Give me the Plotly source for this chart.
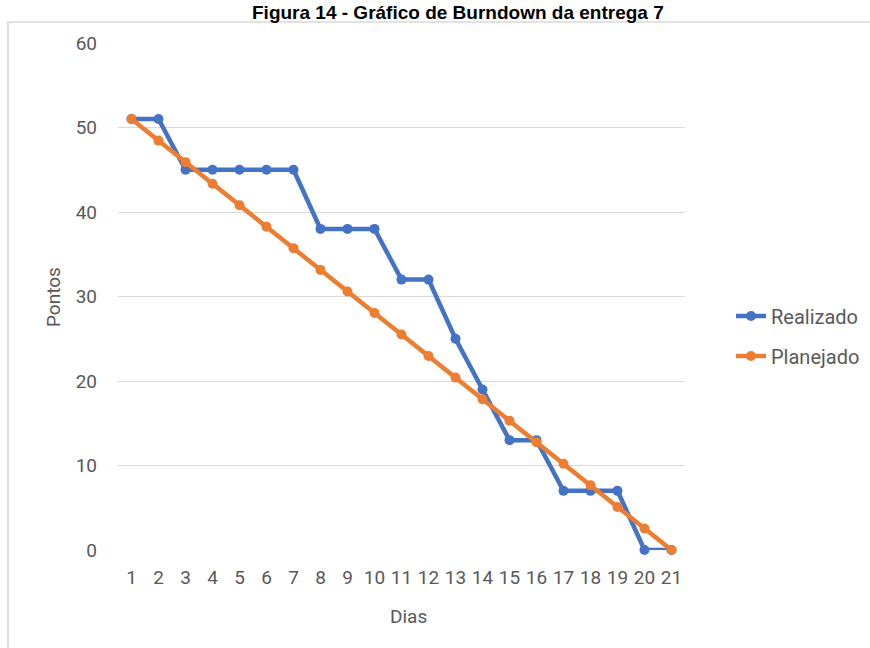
import plotly.graph_objects as go

dias = ["1", "2", "3", "4", "5", "6", "7", "8", "9", "10", "11",
        "12", "13", "14", "15", "16", "17", "18", "19", "20", "21"]
realizado = [51, 51, 45, 45, 45, 45, 45, 38, 38, 38, 32, 32, 25, 19, 13, 13, 7, 7, 7, 0, 0]
planejado = [51, 48.45, 45.9, 43.35, 40.8, 38.25, 35.7, 33.15, 30.6, 28.05, 25.5,
             22.95, 20.4, 17.85, 15.3, 12.75, 10.2, 7.65, 5.1, 2.55, 0]
y_ticks = [0, 10, 20, 30, 40, 50, 60]

title_text = "Figura 14 - Gráfico de Burndown da entrega 7"
x_title = "Dias"
y_title = "Pontos"

BLUE = "#4472C4"
ORANGE = "#ED7D31"
GRAY_TXT = "#595959"
GRID = "#D9D9D9"
FONT = "Roboto, Noto Sans, sans-serif"
FS = 19

# pixel geometry helpers (plot area 118..685 x 43..550)
L, R, T, B = 118, 685, 43, 550
W, H = 870, 648
def px(xp):
    return (xp - L) / (R - L)
def py(yp):
    return (B - yp) / (B - T)

fig = go.Figure()
fig.add_trace(go.Scatter(
    x=dias, y=realizado, name="Realizado", mode="lines+markers",
    line=dict(color=BLUE, width=4.5), marker=dict(color=BLUE, size=10),
    cliponaxis=False, legend="legend"))
fig.add_trace(go.Scatter(
    x=dias, y=planejado, name="Planejado", mode="lines+markers",
    line=dict(color=ORANGE, width=4.5), marker=dict(color=ORANGE, size=10),
    cliponaxis=False, legend="legend2"))

fig.update_layout(
    width=W, height=H,
    margin=dict(l=L, r=W - R, t=T, b=H - B, autoexpand=False),
    paper_bgcolor="white", plot_bgcolor="white",
    font=dict(family=FONT, color=GRAY_TXT, size=FS),
    legend=dict(x=px(731), y=py(316), xanchor="left", yanchor="middle",
                font=dict(size=20, color=GRAY_TXT), bgcolor="rgba(0,0,0,0)"),
    legend2=dict(x=px(731), y=py(356), xanchor="left", yanchor="middle",
                 font=dict(size=20, color=GRAY_TXT), bgcolor="rgba(0,0,0,0)"),
    showlegend=True,
)
fig.update_xaxes(
    type="category", range=[-0.5, 20.5], showgrid=False, showline=False,
    zeroline=False, ticks="", tickfont=dict(size=FS, color=GRAY_TXT),
    ticklabelstandoff=14, fixedrange=True, automargin=False)
fig.update_yaxes(
    range=[0, 60], tickvals=y_ticks, showgrid=True, gridcolor=GRID, gridwidth=1,
    zeroline=False, showline=False, ticks="", tickfont=dict(size=FS, color=GRAY_TXT),
    ticklabelstandoff=20, fixedrange=True, automargin=False)

fig.add_shape(type="rect", xref="paper", yref="paper",
              x0=px(8), y0=py(700), x1=px(900), y1=py(22),
              line=dict(color=GRID, width=1.5), layer="below")

fig.add_annotation(text="<b>" + title_text + "</b>", xref="paper", yref="paper",
                   x=px(458), y=py(0), xanchor="center", yanchor="top",
                   showarrow=False,
                   font=dict(family="Liberation Sans, Arial", size=19, color="black"))
fig.add_annotation(text=x_title, xref="paper", yref="paper",
                   x=px(408), y=py(616), xanchor="center", yanchor="middle",
                   showarrow=False, font=dict(size=FS, color=GRAY_TXT))
fig.add_annotation(text=y_title, xref="paper", yref="paper",
                   x=px(53), y=py(297), xanchor="center", yanchor="middle",
                   textangle=-90, showarrow=False, font=dict(size=FS, color=GRAY_TXT))

fig.write_html("out.html", config={"displayModeBar": False},
               post_script="document.body.style.margin='0px';")
